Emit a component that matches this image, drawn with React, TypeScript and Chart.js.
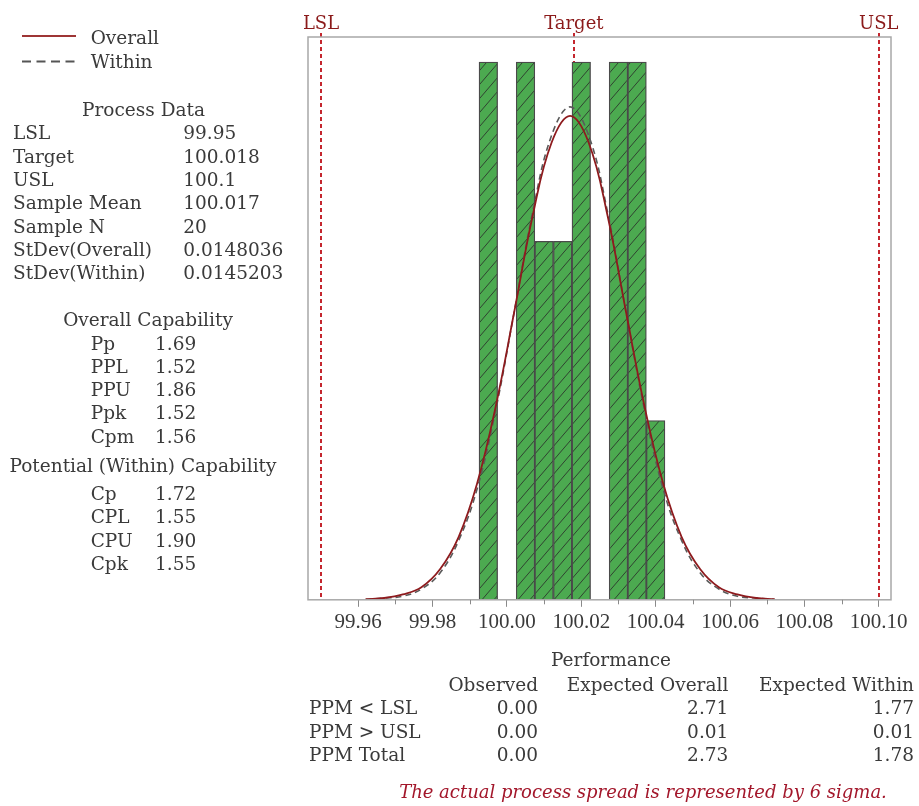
import React, { useEffect, useRef } from "react";
import { Chart, registerables } from "chart.js";

Chart.register(...registerables);

// ---------- data ----------
const BIN_CENTERS = [99.995, 100.0, 100.005, 100.01, 100.015, 100.02, 100.025, 100.03, 100.035, 100.04];
const BIN_COUNTS = [3, 0, 3, 2, 2, 3, 0, 3, 3, 1];

const CURVE_X = [
  99.962, 99.967, 99.972, 99.977, 99.982, 99.987, 99.992, 99.997, 100.002, 100.007, 100.012, 100.017,
  100.022, 100.027, 100.032, 100.037, 100.042, 100.047, 100.052, 100.057, 100.062, 100.067, 100.072,
];
const OVERALL_Y = [
  0.003, 0.01, 0.03, 0.07, 0.17, 0.35, 0.65, 1.08, 1.61, 2.15, 2.55, 2.7,
  2.55, 2.15, 1.61, 1.08, 0.65, 0.35, 0.17, 0.07, 0.03, 0.01, 0.003,
];
const WITHIN_Y = [
  0.002, 0.01, 0.02, 0.06, 0.15, 0.33, 0.62, 1.06, 1.61, 2.17, 2.59, 2.75,
  2.59, 2.17, 1.61, 1.06, 0.62, 0.33, 0.15, 0.06, 0.02, 0.01, 0.002,
];

const SPEC_LABELS = ["LSL", "Target", "USL"];
const SPEC_VALUES = [99.95, 100.018, 100.1];

const MAJOR_TICKS = [99.96, 99.98, 100.0, 100.02, 100.04, 100.06, 100.08, 100.1];
const MINOR_TICKS = [99.97, 99.99, 100.01, 100.03, 100.05, 100.07, 100.09];

const PROCESS_LABELS = ["LSL", "Target", "USL", "Sample Mean", "Sample N", "StDev(Overall)", "StDev(Within)"];
const PROCESS_VALUES = ["99.95", "100.018", "100.1", "100.017", "20", "0.0148036", "0.0145203"];

const OVERALL_CAP_LABELS = ["Pp", "PPL", "PPU", "Ppk", "Cpm"];
const OVERALL_CAP_VALUES = ["1.69", "1.52", "1.86", "1.52", "1.56"];

const WITHIN_CAP_LABELS = ["Cp", "CPL", "CPU", "Cpk"];
const WITHIN_CAP_VALUES = ["1.72", "1.55", "1.90", "1.55"];

const PERF_HEADERS = ["Observed", "Expected Overall", "Expected Within"];
const PERF_ROWS = ["PPM < LSL", "PPM > USL", "PPM Total"];
const PERF_OBSERVED = ["0.00", "0.00", "0.00"];
const PERF_EXP_OVERALL = ["2.71", "0.01", "2.73"];
const PERF_EXP_WITHIN = ["1.77", "0.01", "1.78"];

const FONT = "'DejaVu Serif', serif";
const TICK_FONT = "'Liberation Serif', 'Times New Roman', serif";
const TEXT = "#3a3a3a";

function makeHatch(): CanvasPattern | string {
  const w = 12;
  const h = 14;
  const c = document.createElement("canvas");
  c.width = w;
  c.height = h;
  const g = c.getContext("2d");
  if (!g) return "#4CAA50";
  g.fillStyle = "#4CAA50";
  g.fillRect(0, 0, w, h);
  g.strokeStyle = "rgba(45,55,45,0.9)";
  g.lineWidth = 1;
  g.beginPath();
  g.moveTo(-w, 2 * h);
  g.lineTo(2 * w, -h);
  g.moveTo(-2 * w, 2 * h);
  g.lineTo(w, -h);
  g.moveTo(0, 2 * h);
  g.lineTo(3 * w, -h);
  g.stroke();
  const p = g.createPattern(c, "repeat");
  return p || "#4CAA50";
}

const decorPlugin = {
  id: "decor",
  beforeDatasetsDraw(chart: any) {
    const { ctx, chartArea, scales } = chart;
    ctx.save();
    ctx.strokeStyle = "#C4262E";
    ctx.lineWidth = 2;
    ctx.setLineDash([4, 3]);
    SPEC_VALUES.forEach((v) => {
      const x = Math.round(scales.x.getPixelForValue(v));
      ctx.beginPath();
      ctx.moveTo(x, 33);
      ctx.lineTo(x, chartArea.bottom);
      ctx.stroke();
    });
    ctx.restore();
  },
  afterDraw(chart: any) {
    const { ctx, chartArea, scales } = chart;
    ctx.save();
    // frame
    ctx.strokeStyle = "#a8a8a8";
    ctx.lineWidth = 1.5;
    ctx.strokeRect(chartArea.left, chartArea.top, chartArea.right - chartArea.left, chartArea.bottom - chartArea.top);
    // minor ticks
    ctx.strokeStyle = "#8a8a8a";
    ctx.lineWidth = 1;
    MINOR_TICKS.forEach((v) => {
      const x = Math.round(scales.x.getPixelForValue(v)) + 0.5;
      ctx.beginPath();
      ctx.moveTo(x, chartArea.bottom);
      ctx.lineTo(x, chartArea.bottom + 4.5);
      ctx.stroke();
    });
    // spec labels
    ctx.fillStyle = "#8B1A1A";
    ctx.font = `18px ${FONT}`;
    ctx.textAlign = "center";
    ctx.textBaseline = "alphabetic";
    SPEC_VALUES.forEach((v, i) => {
      const x = scales.x.getPixelForValue(v);
      ctx.fillText(SPEC_LABELS[i], x, 29);
    });
    ctx.restore();
  },
};

const LH = 24;

function T(props: { x: number; y: number; text: string; align?: "left" | "right" | "center"; style?: any }) {
  const { x, y, text, align = "left", style } = props;
  const base: any = {
    position: "absolute",
    top: y - LH / 2,
    lineHeight: `${LH}px`,
    whiteSpace: "nowrap",
    fontFamily: FONT,
    fontSize: 18.5,
    color: TEXT,
  };
  if (align === "left") base.left = x;
  else if (align === "right") base.right = 919 - x;
  else {
    base.left = x;
    base.transform = "translateX(-50%)";
  }
  return <div style={{ ...base, ...style }}>{text}</div>;
}

export default function App() {
  const canvasRef = useRef<HTMLCanvasElement | null>(null);

  useEffect(() => {
    const canvas = canvasRef.current;
    if (!canvas) return;
    const hatch = makeHatch();
    const chart = new Chart(canvas, {
      type: "bar",
      data: {
        datasets: [
          {
            type: "line",
            label: "Overall",
            data: CURVE_X.map((x, i) => ({ x, y: OVERALL_Y[i] })),
            borderColor: "#8E1B1E",
            borderWidth: 1.8,
            pointRadius: 0,
            tension: 0.4,
            fill: false,
            order: 0,
          } as any,
          {
            type: "line",
            label: "Within",
            data: CURVE_X.map((x, i) => ({ x, y: WITHIN_Y[i] })),
            borderColor: "#5a5a5a",
            borderDash: [6, 4],
            borderWidth: 1.6,
            pointRadius: 0,
            tension: 0.4,
            fill: false,
            order: 1,
          } as any,
          {
            type: "bar",
            label: "Histogram",
            data: BIN_CENTERS.map((x, i) => ({ x, y: BIN_COUNTS[i] })),
            backgroundColor: hatch as any,
            borderColor: "#4a4a4a",
            borderWidth: 1.3,
            barPercentage: 1,
            categoryPercentage: 1,
            order: 2,
          } as any,
        ],
      },
      options: {
        responsive: false,
        maintainAspectRatio: false,
        animation: false,
        layout: { padding: { left: 308, right: 28, top: 37, bottom: 168 } },
        plugins: { legend: { display: false }, tooltip: { enabled: false } },
        scales: {
          x: {
            type: "linear",
            min: 99.9465,
            max: 100.1033,
            offset: false,
            grid: { display: true, drawOnChartArea: false, drawTicks: true, tickLength: 7, color: "#8a8a8a", offset: false },
            border: { display: false },
            afterBuildTicks: (axis: any) => {
              axis.ticks = MAJOR_TICKS.map((value) => ({ value }));
            },
            ticks: {
              autoSkip: false,
              maxRotation: 0,
              includeBounds: false,
              padding: 3,
              color: TEXT,
              font: { family: TICK_FONT, size: 21 },
              callback: (v: any) => Number(v).toFixed(2),
            },
          },
          y: { display: false, min: 0, max: 3.14 },
        },
      } as any,
      plugins: [decorPlugin],
    });
    return () => chart.destroy();
  }, []);

  const rowY = (start: number, i: number) => start + i * 23.33;

  return (
    <div style={{ position: "absolute", left: 0, top: 0, width: 919, height: 806, background: "#fff", overflow: "hidden" }}>
      <canvas ref={canvasRef} width={919} height={806} style={{ position: "absolute", left: 0, top: 0, display: "block" }} />
      <div style={{ position: "absolute", left: 0, top: 0, width: 919, height: 806, pointerEvents: "none" }}>
        <svg width={919} height={80} style={{ position: "absolute", left: 0, top: 0 }}>
          <line x1={22} y1={36} x2={76} y2={36} stroke="#9E3535" strokeWidth={2} />
          <line x1={22} y1={61.5} x2={76} y2={61.5} stroke="#555" strokeWidth={1.8} strokeDasharray="9 5.5" />
        </svg>
        <T x={90.7} y={38.3} text="Overall" />
        <T x={90.7} y={62} text="Within" />

        <T x={143.5} y={110} text="Process Data" align="center" />
        {PROCESS_LABELS.map((l, i) => (
          <T key={"pl" + i} x={13} y={rowY(133.3, i)} text={l} />
        ))}
        {PROCESS_VALUES.map((v, i) => (
          <T key={"pv" + i} x={183.3} y={rowY(133.3, i)} text={v} />
        ))}

        <T x={148} y={320} text="Overall Capability" align="center" />
        {OVERALL_CAP_LABELS.map((l, i) => (
          <T key={"ol" + i} x={90.7} y={rowY(343.5, i)} text={l} />
        ))}
        {OVERALL_CAP_VALUES.map((v, i) => (
          <T key={"ov" + i} x={155} y={rowY(343.5, i)} text={v} />
        ))}

        <T x={143} y={466} text="Potential (Within) Capability" align="center" />
        {WITHIN_CAP_LABELS.map((l, i) => (
          <T key={"wl" + i} x={90.7} y={rowY(494, i)} text={l} />
        ))}
        {WITHIN_CAP_VALUES.map((v, i) => (
          <T key={"wv" + i} x={155} y={rowY(494, i)} text={v} />
        ))}

        <T x={611} y={660} text="Performance" align="center" />
        {PERF_HEADERS.map((h, i) => (
          <T key={"ph" + i} x={[538, 728.3, 914][i]} y={685} text={h} align="right" />
        ))}
        {PERF_ROWS.map((r, i) => (
          <T key={"pr" + i} x={309} y={rowY(708.3, i)} text={r} />
        ))}
        {PERF_OBSERVED.map((v, i) => (
          <T key={"po" + i} x={538} y={rowY(708.3, i)} text={v} align="right" />
        ))}
        {PERF_EXP_OVERALL.map((v, i) => (
          <T key={"peo" + i} x={728.3} y={rowY(708.3, i)} text={v} align="right" />
        ))}
        {PERF_EXP_WITHIN.map((v, i) => (
          <T key={"pew" + i} x={914} y={rowY(708.3, i)} text={v} align="right" />
        ))}

        <T
          x={643}
          y={791.7}
          text="The actual process spread is represented by 6 sigma."
          align="center"
          style={{ fontStyle: "italic", color: "#A3172B", fontSize: 18 }}
        />
      </div>
    </div>
  );
}
